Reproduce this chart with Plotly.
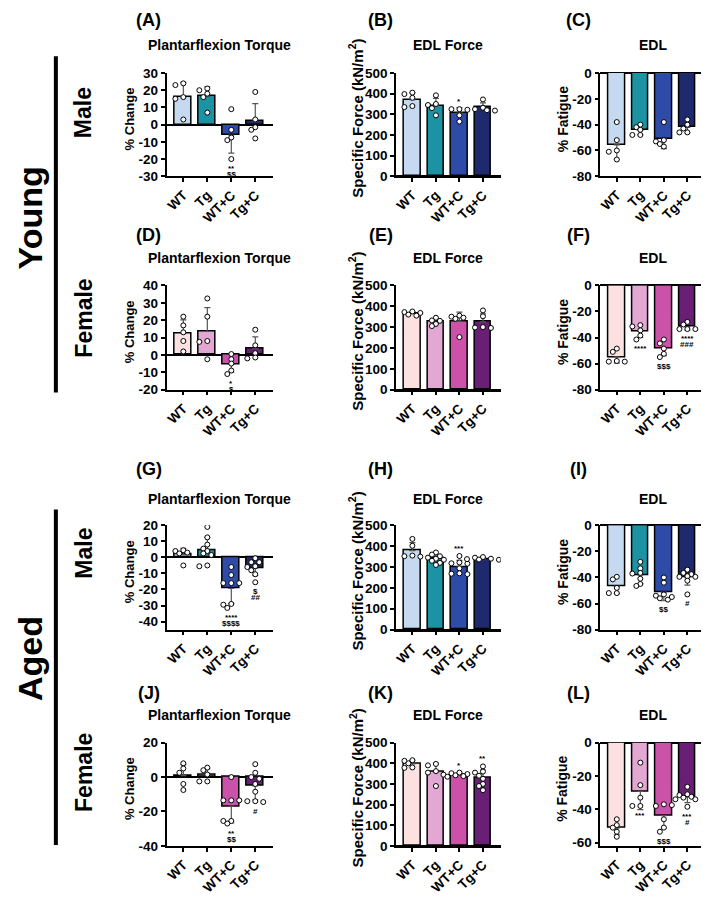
import numpy as np
import plotly.graph_objects as go
from plotly.subplots import make_subplots

FONT = "Arial, Liberation Sans, sans-serif"
W, H = 709, 900
PAGE_OFFSET = 8  # default body margin of the html page

GROUPS = ["WT", "Tg", "WT+C", "Tg+C"]
MALE_COLORS = ["#C5D9F1", "#1B93A2", "#2E4BA8", "#1F2A6E"]
FEMALE_COLORS = ["#FDE0E0", "#E2A7D2", "#CC52A9", "#6A1F77"]

# Young male
ym_torque = [[24, 23, 16, 15, 3], [21, 20, 18, 16, 7], [9, -3, -7.5, -9, -20], [19, 3, -1.5, -3, -8]]
ym_force = [[405, 398, 380, 340, 335], [392, 350, 345, 330, 295], [325, 325, 322, 295, 265], [372, 332, 325, 320, 318]]
ym_fatigue = [[-38, -52, -60, -61, -67], [-40, -42, -44, -48, -48], [-38, -52, -53, -55, -57], [-36, -40, -43, -46, -46]]

# Young female
yf_torque = [[22, 17, 13, 8, 2], [32.5, 22, 8, 7.5, -2.5], [0.5, -2.5, -5, -9, -11], [14.5, 5.5, 1, -1.5, -2]]
yf_force = [[375, 372, 368, 360, 355], [345, 332, 330, 315, 305], [355, 350, 345, 340, 252], [380, 352, 300, 298, 296]]
yf_fatigue = [[-48.5, -51, -58, -58.5, -58.5], [-30.5, -31.5, -34.5, -38.5, -41.5],
              [-41.5, -44.5, -48.5, -52.5, -55], [-28, -30, -33.5, -33.5, -33.5]]

# Aged male
am_torque = [[4.5, 4, 3, 2.5, -5], [19, 12.5, 8, 5.5, 4, 2.5, 1.5, -5, -5.5],
             [-6, -11, -16, -16, -16, -29, -29.5, -31.5], [-0.5, -3, -3, -5.5, -6, -8, -10.5, -15.5]]
am_force = [[435, 402, 355, 352, 350], [370, 360, 352, 345, 340, 335, 330, 320, 310],
            [353, 322, 318, 316, 294, 270, 268, 266], [348, 345, 340, 338, 336, 335, 333]]
am_fatigue = [[-39.5, -41.5, -48, -52, -52], [-28, -33, -36.5, -37, -41, -45, -46.5],
              [-40, -44, -53, -54, -56, -57, -55], [-34, -36.5, -37.5, -39, -39.5, -39.5, -42.5, -53]]

# Aged female
af_torque = [[8, 5, 2.5, -4, -7.5], [5.5, 4, 1.5, -2.5, -2.5], [0, -13.5, -13.5, -13.5, -25.5, -25.5, -27],
             [7.5, 2.5, 0, -1, -4, -8.5, -14, -14, -14.5]]
af_force = [[415, 412, 400, 380, 378], [397, 390, 362, 355, 290], [355, 352, 348, 345, 342, 338, 335],
            [385, 360, 355, 340, 325, 300, 290, 270]]
af_fatigue = [[-46, -49.5, -51, -53.5, -56.5], [-12, -25.5, -33, -38, -38], [-37, -38, -37.5, -46, -51, -53.5],
              [-26.5, -31, -31.5, -32.5, -33, -34, -34, -38.5]]

# significance marks per group index
ym_torque_sig = {2: ["**", "$$"]}
ym_force_sig = {2: ["*"]}
yf_torque_sig = {2: ["*", "$"]}
yf_fatigue_sig = {1: ["****"], 2: ["$$$"], 3: ["****", "###"]}
am_torque_sig = {2: ["****", "$$$$"], 3: ["$", "##"]}
am_force_sig = {2: ["***"]}
am_fatigue_sig = {2: ["$$"], 3: ["#"]}
af_torque_sig = {2: ["**", "$$"], 3: ["#"]}
af_force_sig = {2: ["*"], 3: ["**"]}
af_fatigue_sig = {1: ["***"], 2: ["$$$"], 3: ["***", "#"]}

TORQUE = ("Plantarflexion Torque", "% Change")
FORCE = ("EDL Force", "Specific Force (kN/m<sup>2</sup>)")
FATIGUE = ("EDL", "% Fatigue")

PANELS = [
    ("A", TORQUE, ym_torque, MALE_COLORS, ym_torque_sig, (-30, 30), 10),
    ("B", FORCE, ym_force, MALE_COLORS, ym_force_sig, (0, 500), 100),
    ("C", FATIGUE, ym_fatigue, MALE_COLORS, {}, (-80, 0), 20),
    ("D", TORQUE, yf_torque, FEMALE_COLORS, yf_torque_sig, (-20, 40), 10),
    ("E", FORCE, yf_force, FEMALE_COLORS, {}, (0, 500), 100),
    ("F", FATIGUE, yf_fatigue, FEMALE_COLORS, yf_fatigue_sig, (-80, 0), 20),
    ("G", TORQUE, am_torque, MALE_COLORS, am_torque_sig, (-45, 20), 10),
    ("H", FORCE, am_force, MALE_COLORS, am_force_sig, (0, 500), 100),
    ("I", FATIGUE, am_fatigue, MALE_COLORS, am_fatigue_sig, (-80, 0), 20),
    ("J", TORQUE, af_torque, FEMALE_COLORS, af_torque_sig, (-40, 20), 20),
    ("K", FORCE, af_force, FEMALE_COLORS, af_force_sig, (0, 500), 100),
    ("L", FATIGUE, af_fatigue, FEMALE_COLORS, af_fatigue_sig, (-62, 0), 20),
]

# layout in pixels of the final picture
COL_L = [165, 395, 600]
COL_R = [272, 500, 705]
ROW_T = [67, 283, 527, 748]
ROW_B = [172, 389, 633, 853]
LETTER_X = [147, 380, 578]
LETTER_Y = [13, 232, 470, 697]
TITLE_Y = [39, 255, 500, 720]
YLAB_X = [128, 355, 562]
XRANGE = (-0.7, 3.75)


def fx(px):
    return (px - PAGE_OFFSET) / W


def fy(py):
    return 1 - (py - PAGE_OFFSET) / H


def swarm(vals, ppu_y, step=4.0, diam=4.4):
    """Simple beeswarm: pixel offsets so the dots don't pile up."""
    placed, offs = [], []
    cands = [0.0]
    for k in range(1, 6):
        cands += [-k * step, k * step]
    for v in vals:
        yp = v * ppu_y
        for c in cands:
            if all((c - a) ** 2 + (yp - b) ** 2 >= diam ** 2 for a, b in placed):
                break
        placed.append((c, yp))
        offs.append(c)
    return offs


fig = make_subplots(rows=4, cols=3)
ann = []

for p, (letter, kind, data, colors, sig, yr, dt) in enumerate(PANELS):
    r, c = divmod(p, 3)
    x0, x1 = COL_L[c], COL_R[c]
    y0, y1 = ROW_T[r], ROW_B[r]
    ppu_x = (x1 - x0) / (XRANGE[1] - XRANGE[0])
    ppu_y = (y1 - y0) / (yr[1] - yr[0])

    means = [float(np.mean(g)) for g in data]
    sds = [float(np.std(g, ddof=1)) for g in data]
    up = [s if m >= 0 else 0 for m, s in zip(means, sds)]
    dn = [s if m < 0 else 0 for m, s in zip(means, sds)]

    fig.add_trace(go.Bar(
        x=[0, 1, 2, 3], y=means, width=0.7,
        marker=dict(color=colors, line=dict(color="black", width=1.5)),
        error_y=dict(type="data", symmetric=False, array=up, arrayminus=dn,
                     color="#555555", thickness=1.2, width=3),
    ), row=r + 1, col=c + 1)

    px_, py_ = [], []
    for i, g in enumerate(data):
        offs = swarm(g, ppu_y)
        px_ += [i + o / ppu_x for o in offs]
        py_ += list(g)
    fig.add_trace(go.Scatter(
        x=px_, y=py_, mode="markers",
        marker=dict(symbol="circle", size=5, color="white", line=dict(color="black", width=1)),
    ), row=r + 1, col=c + 1)

    ticks = list(range(int(np.ceil(yr[0] / dt) * dt), yr[1] + 1, dt))
    fig.update_xaxes(
        domain=[fx(x0), fx(x1)], range=list(XRANGE),
        tickvals=[0, 1, 2, 3], ticktext=GROUPS, tickangle=-45,
        tickfont=dict(family=FONT, size=13.5, color="black", weight="bold"),
        showline=True, linecolor="black", linewidth=1.5,
        ticks="outside", ticklen=4, tickwidth=1.5, tickcolor="black",
        showgrid=False, zeroline=False, fixedrange=True,
        row=r + 1, col=c + 1,
    )
    fig.update_yaxes(
        domain=[fy(y1), fy(y0)], range=list(yr),
        tickvals=ticks, ticktext=[str(t) for t in ticks],
        tickfont=dict(family=FONT, size=13.5, color="black", weight="bold"),
        showline=True, linecolor="black", linewidth=1.5,
        ticks="outside", ticklen=4, tickwidth=1.5, tickcolor="black",
        showgrid=False, zeroline=True, zerolinecolor="black", zerolinewidth=1.5,
        row=r + 1, col=c + 1,
    )

    xref = "x" if p == 0 else f"x{p + 1}"
    yref = "y" if p == 0 else f"y{p + 1}"
    above = kind is FORCE
    for gi, marks in sig.items():
        g = data[gi]
        for k, m in enumerate(marks):
            if above:
                ann.append(dict(x=gi, y=max(g), xref=xref, yref=yref, text=m, showarrow=False,
                                yanchor="bottom", yshift=1 + 6 * k,
                                font=dict(family=FONT, size=8, color="black", weight="bold")))
            else:
                ann.append(dict(x=gi, y=min(g), xref=xref, yref=yref, text=m, showarrow=False,
                                yanchor="top", yshift=-3 - 6 * k,
                                font=dict(family=FONT, size=8, color="black", weight="bold")))

    # panel letter, title, y label
    ann.append(dict(x=fx(LETTER_X[c]), y=fy(LETTER_Y[r]), xref="paper", yref="paper",
                    text=f"({letter})", showarrow=False, xanchor="center", yanchor="middle",
                    font=dict(family=FONT, size=18, color="black", weight="bold")))
    ann.append(dict(x=fx((x0 + x1) / 2), y=fy(TITLE_Y[r]), xref="paper", yref="paper",
                    text=kind[0], showarrow=False, xanchor="center", yanchor="middle",
                    font=dict(family=FONT, size=14, color="black", weight="bold")))
    ysize = {TORQUE: 13, FORCE: 15, FATIGUE: 14}[kind]
    ann.append(dict(x=fx(YLAB_X[c]), y=fy((y0 + y1) / 2 - 6), xref="paper", yref="paper",
                    text=kind[1], showarrow=False, textangle=-90,
                    xanchor="center", yanchor="middle",
                    font=dict(family=FONT, size=ysize, color="black", weight="bold")))

# row group labels
for text, x, y, size in [("Young", 28, 214, 34), ("Aged", 28, 662, 34),
                         ("Male", 82, 107, 23), ("Female", 82, 316, 23),
                         ("Male", 82, 555, 23), ("Female", 82, 778, 23)]:
    ann.append(dict(x=fx(x), y=fy(y), xref="paper", yref="paper", text=text, showarrow=False,
                    textangle=-90, xanchor="center", yanchor="middle",
                    font=dict(family=FONT, size=size, color="black", weight="bold")))

shapes = [
    dict(type="line", xref="paper", yref="paper", x0=fx(54), x1=fx(54), y0=fy(50), y1=fy(392),
         line=dict(color="black", width=4)),
    dict(type="line", xref="paper", yref="paper", x0=fx(54), x1=fx(54), y0=fy(511), y1=fy(852),
         line=dict(color="black", width=4)),
]

fig.update_layout(
    width=W, height=H, margin=dict(l=0, r=0, t=0, b=0),
    paper_bgcolor="white", plot_bgcolor="white",
    showlegend=False, bargap=0,
    annotations=ann, shapes=shapes,
    font=dict(family=FONT, color="black"),
)

fig.write_html("out.html")
